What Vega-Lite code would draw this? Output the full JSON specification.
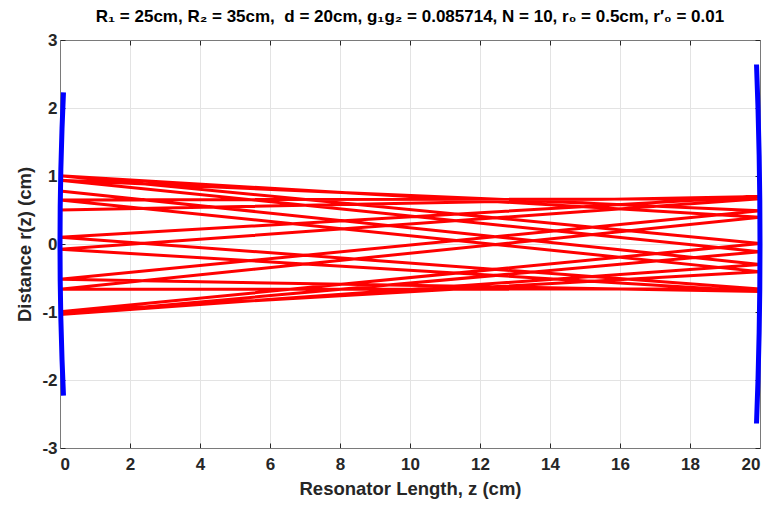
{
  "$schema": "https://vega.github.io/schema/vega-lite/v6.json",
  "width": 700,
  "height": 408,
  "autosize": {"type": "none"},
  "padding": {"left": 60, "top": 40, "right": 13, "bottom": 60},
  "background": "white",
  "view": {"stroke": null},
  "title": {
    "text": "R₁ = 25cm, R₂ = 35cm, \u00a0d = 20cm, g₁g₂ = 0.085714, N = 10, r₀ = 0.5cm, r′₀ = 0.01",
    "font": "Liberation Sans",
    "fontSize": 17,
    "fontWeight": "bold",
    "color": "#000000",
    "anchor": "middle",
    "offset": 5
  },
  "config": {
    "axis": {
      "labelFont": "Liberation Sans",
      "labelFontSize": 17,
      "labelFontWeight": "bold",
      "labelColor": "#262626",
      "titleFont": "Liberation Sans",
      "titleFontSize": 18.5,
      "titleFontWeight": "bold",
      "titleColor": "#262626",
      "domainColor": "#7a7a7a",
      "domainWidth": 1,
      "tickColor": "#262626",
      "tickWidth": 1,
      "gridColor": "#e3e3e3",
      "gridWidth": 1
    }
  },
  "resolve": {"axis": {"x": "independent", "y": "independent"}},
  "layer": [
    {
      "data": {"values": [
        {"k": 0, "z": 0, "r": 0.5},
        {"k": 1, "z": 20, "r": 0.7},
        {"k": 2, "z": 0, "r": 0.1},
        {"k": 3, "z": 20, "r": -0.66},
        {"k": 4, "z": 0, "r": -0.6657},
        {"k": 5, "z": 20, "r": 0.3937},
        {"k": 6, "z": 0, "r": 1.0032},
        {"k": 7, "z": 20, "r": 0.0076},
        {"k": 8, "z": 0, "r": -0.9967},
        {"k": 9, "z": 20, "r": -0.4063},
        {"k": 10, "z": 0, "r": 0.6485},
        {"k": 11, "z": 20, "r": 0.6656},
        {"k": 12, "z": 0, "r": -0.0779},
        {"k": 13, "z": 20, "r": -0.6968},
        {"k": 14, "z": 0, "r": -0.5193},
        {"k": 15, "z": 20, "r": 0.4891},
        {"k": 16, "z": 0, "r": 0.9385},
        {"k": 17, "z": 20, "r": -0.1137},
        {"k": 18, "z": 0, "r": -1.036},
        {"k": 19, "z": 20, "r": -0.3007},
        {"k": 20, "z": 0, "r": 0.7782}
      ]},
      "mark": {"type": "line", "color": "#ff0000", "strokeWidth": 3, "clip": false},
      "encoding": {
        "x": {"field": "z", "type": "quantitative", "scale": {"domain": [0, 20], "nice": false, "zero": false},
          "axis": {"orient": "bottom", "values": [0,2,4,6,8,10,12,14,16,18,20], "grid": true, "tickSize": -5, "labelPadding": 13, "labelExpr": "'' + datum.value", "title": "Resonator Length, z (cm)", "titlePadding": 7}},
        "y": {"field": "r", "type": "quantitative", "scale": {"domain": [-3, 3], "nice": false, "zero": false},
          "axis": {"orient": "left", "values": [-3,-2,-1,0,1,2,3], "grid": true, "tickSize": -5, "labelPadding": 8, "labelExpr": "'' + datum.value", "title": "Distance r(z) (cm)", "titlePadding": 7}},
        "order": {"field": "k", "type": "quantitative"}
      }
    },
    {
      "data": {"values": [
        {"mirror": "M1", "k": 0, "z": 0.0995, "r": -2.23},
        {"mirror": "M1", "k": 1, "z": 0.0578, "r": -1.7},
        {"mirror": "M1", "k": 2, "z": 0.0242, "r": -1.1},
        {"mirror": "M1", "k": 3, "z": 0.006, "r": -0.55},
        {"mirror": "M1", "k": 4, "z": 0, "r": 0},
        {"mirror": "M1", "k": 5, "z": 0.006, "r": 0.55},
        {"mirror": "M1", "k": 6, "z": 0.0242, "r": 1.1},
        {"mirror": "M1", "k": 7, "z": 0.0578, "r": 1.7},
        {"mirror": "M1", "k": 8, "z": 0.0995, "r": 2.23},
        {"mirror": "M2", "k": 0, "z": 19.9004, "r": -2.64},
        {"mirror": "M2", "k": 1, "z": 19.9429, "r": -2.0},
        {"mirror": "M2", "k": 2, "z": 19.9759, "r": -1.3},
        {"mirror": "M2", "k": 3, "z": 19.994, "r": -0.65},
        {"mirror": "M2", "k": 4, "z": 20, "r": 0},
        {"mirror": "M2", "k": 5, "z": 19.994, "r": 0.65},
        {"mirror": "M2", "k": 6, "z": 19.9759, "r": 1.3},
        {"mirror": "M2", "k": 7, "z": 19.9429, "r": 2.0},
        {"mirror": "M2", "k": 8, "z": 19.9004, "r": 2.64}
      ]},
      "mark": {"type": "line", "color": "#0000ff", "strokeWidth": 5, "clip": false},
      "encoding": {
        "x": {"field": "z", "type": "quantitative", "scale": {"domain": [0, 20], "nice": false, "zero": false},
          "axis": {"orient": "top", "values": [0,2,4,6,8,10,12,14,16,18,20], "grid": false, "tickSize": -5, "labels": false, "title": null}},
        "y": {"field": "r", "type": "quantitative", "scale": {"domain": [-3, 3], "nice": false, "zero": false},
          "axis": {"orient": "right", "values": [-3,-2,-1,0,1,2,3], "grid": false, "tickSize": -5, "labels": false, "title": null}},
        "detail": {"field": "mirror", "type": "nominal"},
        "order": {"field": "k", "type": "quantitative"}
      }
    }
  ]
}
